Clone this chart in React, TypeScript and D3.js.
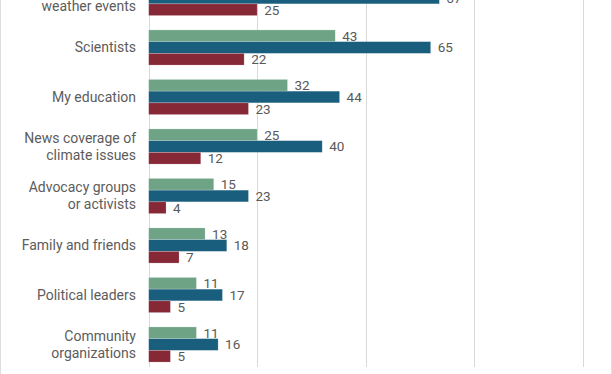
import React from "react";
import * as d3 from "d3";

const categories = [
  "Extreme\nweather events",
  "Scientists",
  "My education",
  "News coverage of\nclimate issues",
  "Advocacy groups\nor activists",
  "Family and friends",
  "Political leaders",
  "Community\norganizations",
];
const seriesNames = ["green", "blue", "red"];
const greenValues = [48, 43, 32, 25, 15, 13, 11, 11];
const blueValues = [67, 65, 44, 40, 23, 18, 17, 16];
const redValues = [25, 22, 23, 12, 4, 7, 5, 5];
const xTicks = [0, 25, 50, 75, 100];

const colors: Record<string, string> = {
  green: "#6fa386",
  blue: "#1a5e7e",
  red: "#872836",
};

const W = 612;
const H = 374;

export default function App() {
  const step = 49.5;
  const y0 = -26.75;
  const y = d3
    .scaleBand<string>()
    .domain(categories)
    .range([y0, y0 + step * categories.length])
    .paddingInner(0.29)
    .paddingOuter(0.145);
  const ys = d3
    .scaleBand<string>()
    .domain(seriesNames)
    .range([0, y.bandwidth()]);
  const x = d3.scaleLinear().domain([0, 100]).range([148.7, 582.5]);
  const seriesVals: Record<string, number[]> = {
    green: greenValues,
    blue: blueValues,
    red: redValues,
  };
  const font = "Roboto, 'Noto Sans', sans-serif";

  return (
    <svg
      width={W}
      height={H}
      style={{ position: "absolute", left: 0, top: 0, background: "#fff" }}
      fontFamily={font}
    >
      <rect x={0} y={0} width={W} height={H} fill="#fff" />
      <line x1={0.5} x2={0.5} y1={0} y2={H} stroke="#dedede" />
      <line x1={W - 0.5} x2={W - 0.5} y1={0} y2={H} stroke="#dedede" />
      {xTicks.map((t) => (
        <line
          key={t}
          x1={Math.round(x(t)) + 0.5}
          x2={Math.round(x(t)) + 0.5}
          y1={-40}
          y2={367}
          stroke="#d9d9d9"
          strokeWidth={1}
        />
      ))}
      {categories.map((c, i) => {
        const by = y(c)!;
        const center = by + y.bandwidth() / 2;
        const lines = c.split("\n");
        const lh = 17;
        return (
          <g key={c}>
            <text
              x={136}
              textAnchor="end"
              fontSize={14}
              fill="#5c5c5c"
            >
              {lines.map((l, li) => (
                <tspan
                  key={li}
                  x={136}
                  y={center + (li - (lines.length - 1) / 2) * lh}
                  dy="0.35em"
                >
                  {l}
                </tspan>
              ))}
            </text>
            {seriesNames.map((s) => {
              const v = seriesVals[s][i];
              const sy = by + ys(s)!;
              return (
                <g key={s}>
                  <rect
                    x={x(0)}
                    y={sy}
                    width={x(v) - x(0)}
                    height={ys.bandwidth()}
                    fill={colors[s]}
                    stroke="rgba(255,255,255,0.35)"
                    strokeWidth={0.6}
                  />
                  <text
                    x={x(v) + 7}
                    y={sy + ys.bandwidth() / 2}
                    dy="0.36em"
                    fontSize={13.5}
                    fill="#595959"
                  >
                    {v}
                  </text>
                </g>
              );
            })}
          </g>
        );
      })}
    </svg>
  );
}
